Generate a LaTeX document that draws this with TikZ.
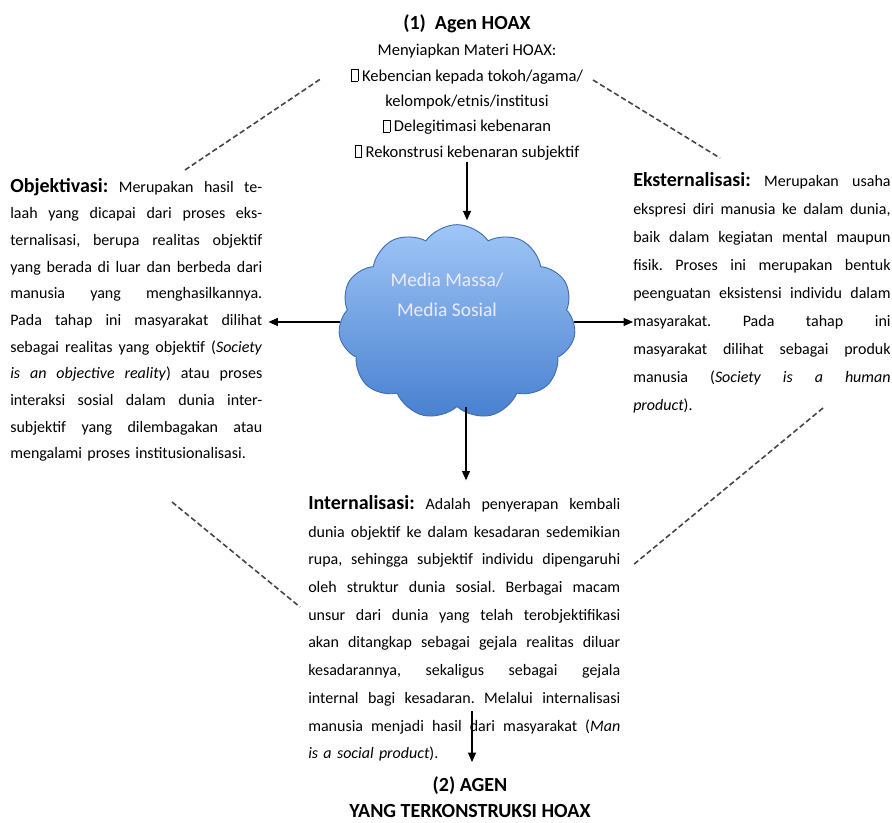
\documentclass[tikz,border=0pt]{standalone}
\usepackage{fontspec}
\setmainfont{Carlito}
\usetikzlibrary{arrows.meta,shapes.symbols}

\definecolor{cloudtop}{RGB}{160,198,246}
\definecolor{cloudbot}{RGB}{72,128,208}
\definecolor{cloudline}{RGB}{64,110,180}
\definecolor{dashgray}{RGB}{70,70,70}

\newcommand{\nobox}{{\fboxsep=0pt\fboxrule=0.5pt\fbox{\rule{0pt}{8.5pt}\hspace{4.5pt}}}}
\newcommand{\headfont}{\fontsize{15}{18}\selectfont\bfseries}
\newcommand{\jlw}{100pt}
\newcommand{\jl}[1]{\leavevmode\hbox to \jlw{\spaceskip=0.22em plus 1.5em minus 0.06em\relax #1}\\}

\begin{document}
\frenchspacing
\begin{tikzpicture}[x=0.75pt, y=-0.75pt,
  blocktext/.style={anchor=north west, inner sep=0pt, align=left, text width=#1,
    execute at begin node={\def\jlw{#1}}},
  arr/.style={-{Triangle[length=7pt,width=6pt]}, line width=0.9pt},
  dashline/.style={dash pattern=on 4pt off 2.2pt, line width=1.2pt, dashgray}]

\useasboundingbox (0,0) rectangle (892,823);

% (1) top: the hoax agent

\node (agen1) [anchor=north, inner sep=0pt, align=center, font=\fontsize{12.4}{19}\selectfont] at (467,14)
  {{\headfont (1)\ \ Agen HOAX}\\[1pt]
   Menyiapkan Materi HOAX:\\
   \nobox\ Kebencian kepada tokoh/agama/\\
   kelompok/etnis/institusi\\
   \nobox\ Delegitimasi kebenaran\\
   \nobox\ Rekonstrusi kebenaran subjektif};

% the cloud in the middle

\node (media) at (457,322) [cloud, cloud puffs=11, cloud puff arc=110, cloud ignores aspect,
  minimum width=178pt, minimum height=146pt, draw=cloudline, line width=0.7pt,
  top color=cloudtop, bottom color=cloudbot] {};
\node (medialabel) at (447,295) [align=center, text=white!92!blue, font=\fontsize{14.6}{22.5}\selectfont]
  {Media Massa/\\Media Sosial};

% left: objektivasi

\node (objbox) at (10,178) [blocktext=189pt, font=\fontsize{12}{20}\selectfont] {%
\jl{{\headfont Objektivasi:} Merupakan hasil te-}
\jl{laah yang dicapai dari proses eks-}
\jl{ternalisasi, berupa realitas objektif}
\jl{yang berada di luar dan berbeda dari}
\jl{manusia yang menghasilkannya.}
\jl{Pada tahap ini masyarakat dilihat}
\jl{sebagai realitas yang objektif (\textit{Society}}
\jl{\textit{is an objective reality}) atau proses}
\jl{interaksi sosial dalam dunia inter-}
\jl{subjektif yang dilembagakan atau}
mengalami proses institusionalisasi.};

% right: eksternalisasi

\node (ekst) at (633,172) [blocktext=193pt, font=\fontsize{12}{21}\selectfont] {%
\jl{{\headfont Eksternalisasi:} Merupakan usaha}
\jl{ekspresi diri manusia ke dalam dunia,}
\jl{baik dalam kegiatan mental maupun}
\jl{fisik. Proses ini merupakan bentuk}
\jl{peenguatan eksistensi individu dalam}
\jl{masyarakat. Pada tahap ini}
\jl{masyarakat dilihat sebagai produk}
\jl{manusia (\textit{Society is a human}}
\textit{product}).};

% bottom: internalisasi

\node (intern) at (308,495) [blocktext=234pt, font=\fontsize{12}{20.8}\selectfont] {%
\jl{{\headfont Internalisasi:} Adalah penyerapan kembali}
\jl{dunia objektif ke dalam kesadaran sedemikian}
\jl{rupa, sehingga subjektif individu dipengaruhi}
\jl{oleh struktur dunia sosial. Berbagai macam}
\jl{unsur dari dunia yang telah terobjektifikasi}
\jl{akan ditangkap sebagai gejala realitas diluar}
\jl{kesadarannya, sekaligus sebagai gejala}
\jl{internal bagi kesadaran. Melalui internalisasi}
\jl{manusia menjadi hasil dari masyarakat (\textit{Man}}
\textit{is a social product}).};

% (2) bottom: the constructed agent

\node (agen2) at (470,776) [anchor=north, inner sep=0pt, align=center, font=\fontsize{15}{20}\selectfont\bfseries]
  {(2) AGEN\\YANG TERKONSTRUKSI HOAX};

% arrows

\coordinate (medout) at ([xshift=6.75pt]media.south);
\coordinate (intout) at (472,711);

\draw[arr, shorten <=1pt, shorten >=3pt] (agen1.south) -- (agen1.south |- media.north);
\draw[arr, shorten >=4.5pt] (media.west) -- (media.west -| objbox.east);
\draw[arr] (media.east) -- (media.east -| ekst.west);
\draw[arr, shorten >=11pt] (medout) -- (medout |- intern.north);
\draw[arr, shorten >=10.5pt] (intout) -- (intout |- agen2.north);

% dashed frame

\draw[dashline] (185,170) -- (322,78);
\draw[dashline] (593,80) -- (720,158);
\draw[dashline] (823,408) -- (633,565);
\draw[dashline] (172,502) -- (300,607);

\end{tikzpicture}
\end{document}
